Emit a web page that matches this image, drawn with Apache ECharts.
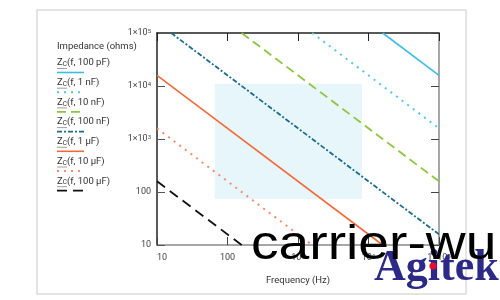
<!DOCTYPE html>
<html><head><meta charset="utf-8">
<script src="https://cdn.jsdelivr.net/npm/echarts@6/dist/echarts.min.js"></script>
<style>html,body{margin:0;padding:0;background:#fff}#c{width:500px;height:300px}</style>
</head><body><div id="c"></div>
<script>
// Capacitor labels (legend)
const capLabels = ['100 pF', '1 nF', '10 nF', '100 nF', '1 µF', '10 µF', '100 µF'];
// Impedance lines: [frequency Hz, impedance ohms] at the plot edges
const z100pF = [[15900, 100000], [100000, 15900]];
const z1nF   = [[1590, 100000], [100000, 1590]];
const z10nF  = [[159, 100000], [100000, 159]];
const z100nF = [[15.9, 100000], [100000, 15.9]];
const z1uF   = [[10, 15900], [15900, 10]];
const z10uF  = [[10, 1590], [1590, 10]];
const z100uF = [[10, 159], [159, 10]];
// Shaded band (frequency range and impedance range)
const bandFreq = [66, 8100];
const bandZ = [74, 11000];
// Axis ranges
const xRange = [10, 100000];
const yRange = [10, 100000];

const seriesData = [z100pF, z1nF, z10nF, z100nF, z1uF, z10uF, z100uF];
const colors = ['#3dbde0', '#55c6e6', '#8cc63f', '#1d6b8c', '#f26a3b', '#f58b6c', '#111111'];
const lineTypes = ['solid', [2, 5], [9, 5], [5, 2, 2, 2], 'solid', [2, 5], [10, 6]];
const widths = [1.6, 2, 1.8, 1.8, 1.6, 2, 1.8];

const chart = echarts.init(document.getElementById('c'), null, {renderer: 'canvas'});

function yFmt(v) {
  const e = Math.round(Math.log10(v));
  if (e <= 2) return String(Math.round(v));
  return '1×10{sup|' + e + '}';
}
function xFmt(v) {
  const e = Math.round(Math.log10(v));
  if (e <= 2) return String(Math.round(v));
  if (e === 5) return '1×10{sup|' + e + '}';
  return '10{sup|' + e + '}';
}
const labelRich = {sup: {fontSize: 6, lineHeight: 6, verticalAlign: 'top', color: '#444', fontFamily: 'Roboto'}};

const series = [{
  type: 'line', data: [], z: 1, silent: true,
  markArea: {silent: true, itemStyle: {color: '#e7f6fb'},
    data: [[{coord: [bandFreq[0], bandZ[1]]}, {coord: [bandFreq[1], bandZ[0]]}]]}
}];
seriesData.forEach((d, i) => {
  series.push({
    type: 'line', name: capLabels[i], data: d, showSymbol: false, symbol: 'none', z: 3,
    clip: true, silent: true,
    lineStyle: {color: colors[i], width: widths[i], type: lineTypes[i]}
  });
});

const graphic = [
  {type: 'rect', shape: {x: 37, y: 10, width: 429, height: 284}, style: {fill: 'none', stroke: '#dcdcdc', lineWidth: 1.5}, z: 0},
  {type: 'text', style: {text: 'Impedance (ohms)', x: 57, y: 47, verticalAlign: 'middle', font: '9.5px Roboto', fill: '#333'}}
];
capLabels.forEach((lab, i) => {
  const ty = 63 + 19.7 * i;
  graphic.push({type: 'text', style: {
    text: 'Z{s|C}(f, ' + lab + ')', x: 57, y: ty, verticalAlign: 'middle', fill: '#333',
    font: '9.5px Roboto',
    rich: {s: {fontSize: 6.5, verticalAlign: 'bottom', lineHeight: 4, fill: '#333', fontFamily: 'Roboto'}}
  }});
  graphic.push({type: 'line', shape: {x1: 57, y1: ty + 5.5, x2: 67, y2: ty + 5.5}, style: {stroke: '#777', lineWidth: 0.7}});
  const lt = lineTypes[i];
  graphic.push({type: 'line', shape: {x1: 57, y1: ty + 9.5, x2: 84, y2: ty + 9.5},
    style: {stroke: colors[i], lineWidth: widths[i], lineDash: lt === 'solid' ? null : lt}});
});
// watermarks
graphic.push({type: 'text', z: 100, scaleX: 1.15, originX: 251, originY: 270,
  style: {text: 'carrier-wu', x: 251, y: 270, verticalAlign: 'bottom', font: '48px "Liberation Sans"', fill: '#000'}});
graphic.push({type: 'text', z: 99, style: {text: 'Agitek', x: 374, y: 291, verticalAlign: 'bottom', font: 'bold 44px "Liberation Serif"', fill: '#2c2a86'}});
graphic.push({type: 'circle', z: 101, shape: {cx: 433, cy: 266, r: 3.6}, style: {fill: '#e8112d'}});

const axisCommon = {
  type: 'log', logBase: 10, splitLine: {show: false}, minorTick: {show: false}, minorSplitLine: {show: false}
};

chart.setOption({
  animation: false,
  backgroundColor: '#fff',
  grid: {left: 157, top: 33, width: 282, height: 212, containLabel: false},
  xAxis: [
    Object.assign({}, axisCommon, {
      min: xRange[0], max: xRange[1], position: 'bottom',
      axisLine: {show: true, lineStyle: {color: '#8a8a8a', width: 1.5}},
      axisTick: {show: true, inside: true, length: 8, lineStyle: {color: '#444', width: 1}},
      axisLabel: {formatter: xFmt, fontSize: 9, color: '#444', fontFamily: 'Roboto', margin: 8, rich: labelRich, alignMinLabel: 'left'},
      name: 'Frequency (Hz)', nameLocation: 'middle', nameGap: 31,
      nameTextStyle: {fontSize: 9.5, color: '#333', fontFamily: 'Roboto'}
    }),
    Object.assign({}, axisCommon, {
      min: xRange[0], max: xRange[1], position: 'top',
      axisLine: {show: true, lineStyle: {color: '#222', width: 1.5}},
      axisTick: {show: true, inside: true, length: 8, lineStyle: {color: '#222', width: 1}},
      axisLabel: {show: false}
    })
  ],
  yAxis: [
    Object.assign({}, axisCommon, {
      min: yRange[0], max: yRange[1], position: 'left',
      axisLine: {show: true, lineStyle: {color: '#222', width: 1.5}},
      axisTick: {show: true, inside: true, length: 8, lineStyle: {color: '#555', width: 1}},
      axisLabel: {formatter: yFmt, fontSize: 9, color: '#444', fontFamily: 'Roboto', margin: 6, rich: labelRich}
    }),
    Object.assign({}, axisCommon, {
      min: yRange[0], max: yRange[1], position: 'right',
      axisLine: {show: true, lineStyle: {color: '#8a8a8a', width: 1.5}},
      axisTick: {show: true, inside: true, length: 8, lineStyle: {color: '#444', width: 1}},
      axisLabel: {show: false}
    })
  ],
  series: series,
  graphic: graphic
});
</script></body></html>
